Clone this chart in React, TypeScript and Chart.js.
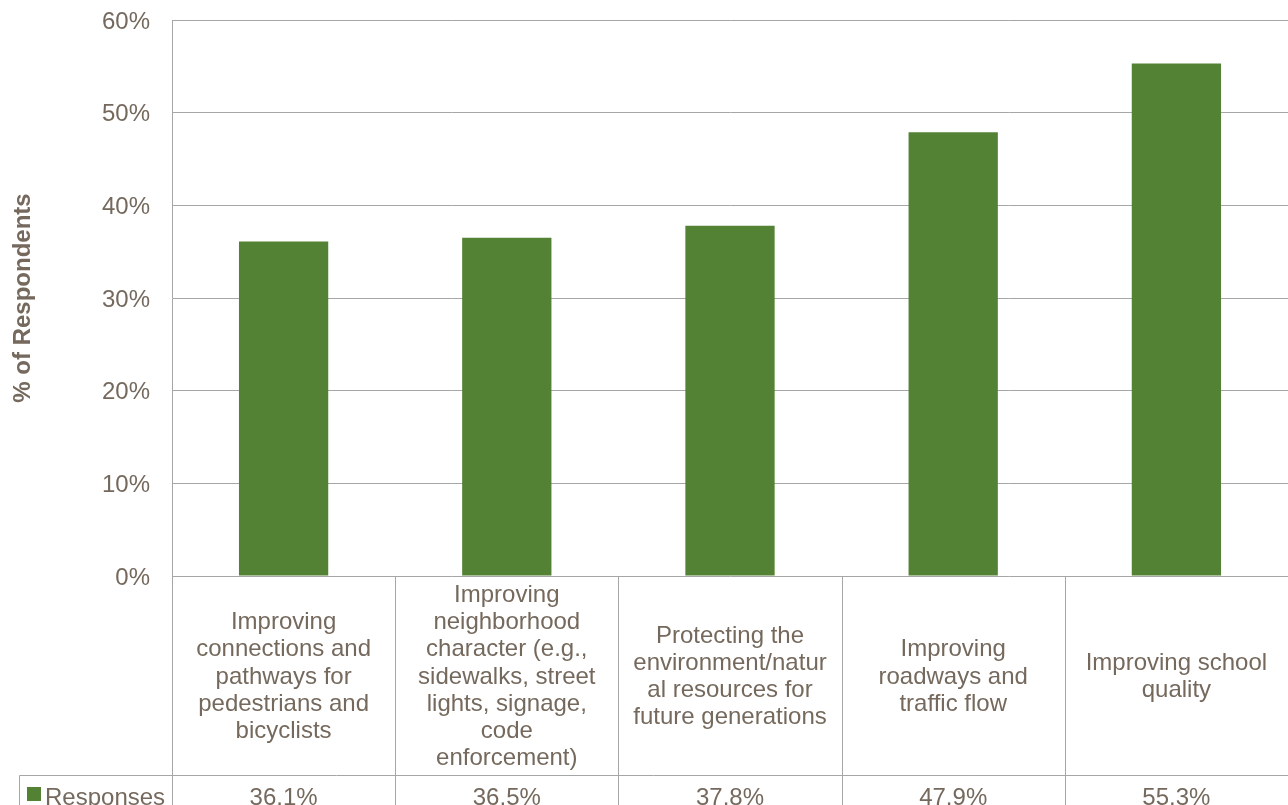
import { useEffect, useRef } from 'react';
import { Chart, registerables } from 'chart.js';

Chart.register(...registerables);

// Category labels, already broken into the lines shown in the data table
const categories: string[][] = [
  ['Improving', 'connections and', 'pathways for', 'pedestrians and', 'bicyclists'],
  ['Improving', 'neighborhood', 'character (e.g.,', 'sidewalks, street', 'lights, signage,', 'code', 'enforcement)'],
  ['Protecting the', 'environment/natur', 'al resources for', 'future generations'],
  ['Improving', 'roadways and', 'traffic flow'],
  ['Improving school', 'quality'],
];
const seriesName = 'Responses';
const responses = [36.1, 36.5, 37.8, 47.9, 55.3];
const yMax = 60;
const yStep = 10;
const yTitle = '% of Respondents';

const FONT = "'Liberation Sans', Arial, sans-serif";
const TEXT = '#75695d';
const GRID = '#a6a6a6';
const BAR = '#548235';

// Data table underneath the plot: category label row, legend key and value row
const dataTablePlugin = {
  id: 'dataTable',
  afterDraw(chart: any) {
    const { ctx, chartArea } = chart;
    const { left, right, bottom } = chartArea;
    const n = categories.length;
    const colW = (right - left) / n;
    const rowBottom = bottom + 199;
    const tableBottom = chart.height;
    const legendLeft = 19.5;
    const lineH = 27.3;
    const rowMid = (bottom + rowBottom) / 2;

    ctx.save();
    ctx.strokeStyle = GRID;
    ctx.lineWidth = 1;
    ctx.beginPath();
    // left edge of the table, continuing the y axis line
    ctx.moveTo(Math.round(left) + 0.5, bottom);
    ctx.lineTo(Math.round(left) + 0.5, tableBottom);
    // column separators
    for (let i = 1; i <= n; i++) {
      const x = Math.round(left + i * colW) + 0.5;
      ctx.moveTo(x, bottom);
      ctx.lineTo(x, tableBottom);
    }
    // line between label row and value row
    ctx.moveTo(legendLeft, Math.round(rowBottom) + 0.5);
    ctx.lineTo(right, Math.round(rowBottom) + 0.5);
    // left edge of the legend cell
    ctx.moveTo(legendLeft, Math.round(rowBottom) + 0.5);
    ctx.lineTo(legendLeft, tableBottom);
    ctx.stroke();

    ctx.fillStyle = TEXT;
    ctx.font = `24px ${FONT}`;
    ctx.textAlign = 'center';
    ctx.textBaseline = 'alphabetic';
    categories.forEach((lines, i) => {
      const cx = left + (i + 0.5) * colW;
      const first = rowMid + 8 - ((lines.length - 1) / 2) * lineH;
      lines.forEach((t, k) => ctx.fillText(t, cx, first + k * lineH));
    });

    const valueBase = rowBottom + 30;
    responses.forEach((v, i) => {
      const cx = left + (i + 0.5) * colW;
      ctx.fillText(`${v.toFixed(1)}%`, cx, valueBase);
    });

    // legend key
    ctx.fillStyle = BAR;
    ctx.fillRect(27, rowBottom + 12, 14, 14);
    ctx.fillStyle = TEXT;
    ctx.textAlign = 'left';
    ctx.fillText(seriesName, 45, valueBase);
    ctx.restore();
  },
};

export default function App() {
  const canvasRef = useRef<HTMLCanvasElement | null>(null);

  useEffect(() => {
    const canvas = canvasRef.current;
    if (!canvas) return;
    const chart = new Chart(canvas, {
      type: 'bar',
      data: {
        labels: categories,
        datasets: [
          {
            label: seriesName,
            data: responses,
            backgroundColor: BAR,
            borderWidth: 0,
            barPercentage: 0.4,
            categoryPercentage: 1,
          },
        ],
      },
      options: {
        responsive: false,
        animation: false,
        layout: { padding: { top: 20, right: 0, bottom: 229, left: 0 } },
        plugins: {
          legend: { display: false },
          tooltip: { enabled: false },
        },
        scales: {
          x: { display: false },
          y: {
            min: 0,
            max: yMax,
            afterFit(scale: any) {
              scale.width = 172;
              scale.paddingTop = 0;
              scale.paddingBottom = 0;
            },
            ticks: {
              stepSize: yStep,
              padding: 22,
              labelOffset: 2,
              color: TEXT,
              font: { family: FONT, size: 24 },
              callback: (v: any) => `${v}%`,
            },
            grid: { color: GRID, drawTicks: false, lineWidth: 1 },
            border: { display: true, color: GRID },
            title: {
              display: true,
              text: yTitle,
              color: TEXT,
              font: { family: FONT, size: 24, weight: 'bold' },
              padding: { top: 9, bottom: 0 },
            },
          },
        },
      },
      plugins: [dataTablePlugin],
    });
    return () => chart.destroy();
  }, []);

  return (
    <div style={{ position: 'absolute', left: 0, top: 0, width: 1288, height: 805, background: '#fff' }}>
      <canvas ref={canvasRef} width={1288} height={805} style={{ display: 'block' }} />
    </div>
  );
}
